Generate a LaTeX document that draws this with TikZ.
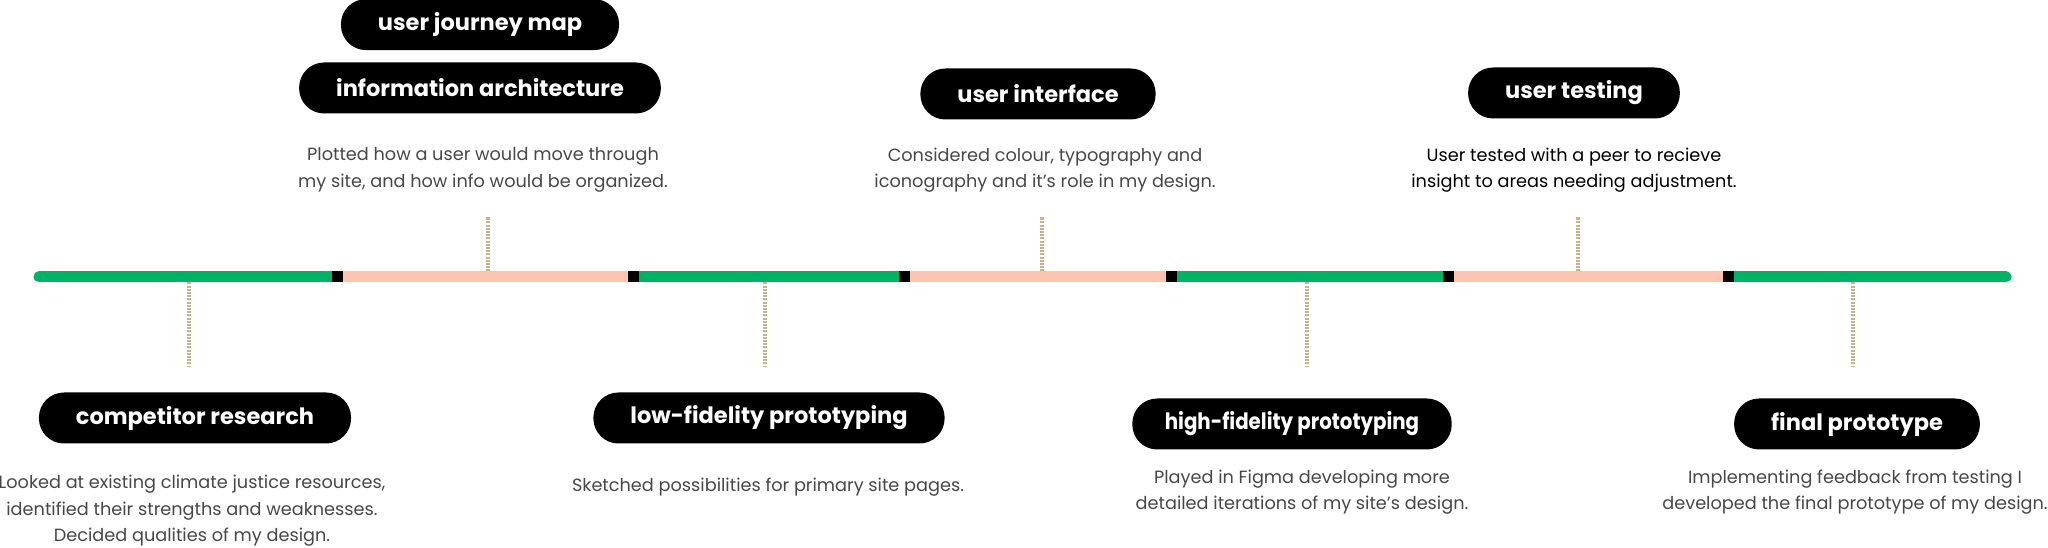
\documentclass[tikz,border=0pt]{standalone}
\usepackage{fontspec}
\setmainfont{Poppins}
\usetikzlibrary{positioning}

\definecolor{stepgreen}{HTML}{00B265}
\definecolor{steppink}{HTML}{FFC4B0}
\definecolor{ticktan}{HTML}{C9B38F}
\definecolor{descgray}{HTML}{474747}

\begin{document}
\begin{tikzpicture}[x=1pt,y=1pt,
    pill/.style={fill=black,text=white,rounded corners=25pt,minimum height=51pt,inner xsep=37pt,font=\fontsize{22.5}{26}\selectfont\bfseries},
    desc/.style={text=descgray,align=center,font=\fontsize{17.7}{26.5}\selectfont},
    tick/.style={ticktan,line width=4pt,dash pattern=on 2pt off 1.2pt},
    joint/.style={fill=black,minimum size=11pt,inner sep=0pt}]
        \useasboundingbox (0,0) rectangle (2048,548);

        % Timeline
        \coordinate (p0) at (39,271);
        \coordinate (p1) at (337,271);
        \coordinate (p2) at (633,271);
        \coordinate (p3) at (904,271);
        \coordinate (p4) at (1171,271);
        \coordinate (p5) at (1448,271);
        \coordinate (p6) at (1728,271);
        \coordinate (p7) at (2006,271);
        \draw[stepgreen,line width=11pt,line cap=round] (p0) -- (p7);
        \foreach \a/\b in {p1/p2,p3/p4,p5/p6}
            \draw[steppink,line width=11pt] (\a) -- (\b);
        \foreach \p in {p1,p2,p3,p4,p5,p6}
            \node[joint] (j\p) at (\p) {};

        % Ticks
        \foreach \n/\x in {t1/189,t3/765,t5/1307,t7/1853} {
            \coordinate (\n) at (\x,265.5);
            \coordinate (\n e) at (\x,182);
            \draw[tick] (\n) -- (\n e);
        }
        \foreach \n/\x in {t2/488,t4/1042,t6/1578} {
            \coordinate (\n) at (\x,276.5);
            \coordinate (\n e) at (\x,331);
            \draw[tick] (\n) -- (\n e);
        }

        % Steps above
        \node[pill] (info) at (480,460) {information architecture};
        \node[pill,above=12pt of info] (journey) {user journey map};
        \node[desc] (infotext) at (483,378) {Plotted how a user would move through\\my site, and how info would be organized.};

        \node[pill] (ui) at (1038,454) {user interface};
        \node[desc] (uitext) at (1045,378) {Considered colour, typography and\\iconography and it’s role in my design.};

        \node[pill] (testing) at (1574,455) {user testing};
        \node[desc,text=black] (testingtext) at (1574,378) {User tested with a peer to recieve\\insight to areas needing adjustment.};

        % Steps below
        \node[pill] (comp) at (195,130) {competitor research};
        \node[desc] (comptext) at (192,37) {Looked at existing climate justice resources,\\identified their strengths and weaknesses.\\Decided qualities of my design.};

        \node[pill] (lofi) at (769,130) {low-fidelity prototyping};
        \node[desc] (lofitext) at (768,61) {Sketched possibilities for primary site pages.};

        \node[pill,xscale=0.88,transform shape] (hifi) at (1292,124) {high-fidelity prototyping};
        \node[desc] (hifitext) at (1302,56) {Played in Figma developing more\\detailed iterations of my site’s design.};

        \node[pill] (final) at (1857,124) {final prototype};
        \node[desc] (finaltext) at (1855,56) {Implementing feedback from testing I\\developed the final prototype of my design.};
      \end{tikzpicture}
\end{document}
